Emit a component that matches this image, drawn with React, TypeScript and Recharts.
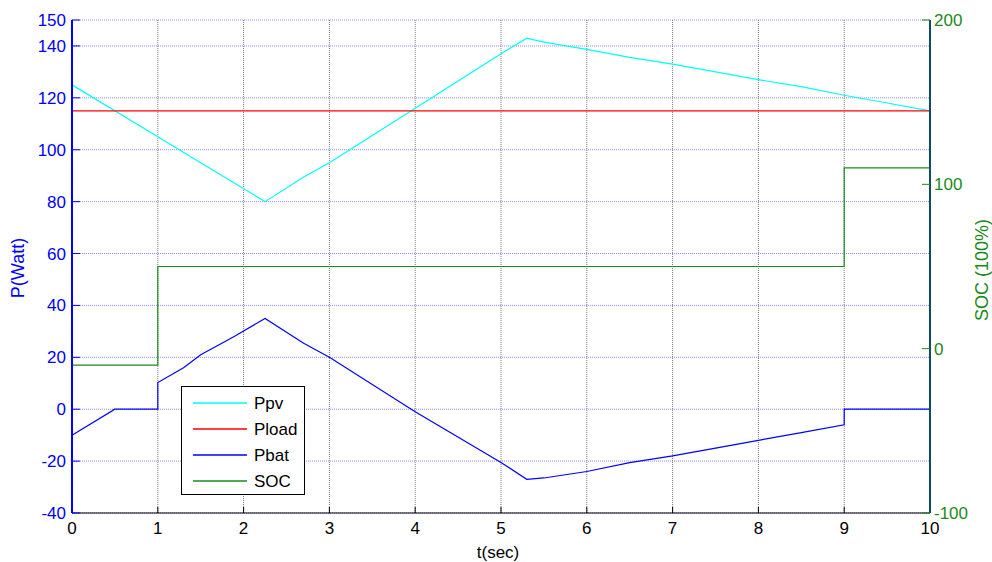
// power balance + state of charge over time

import React from "react";
import {
  ComposedChart,
  Line,
  XAxis,
  YAxis,
  CartesianGrid,
  Legend,
} from "recharts";

const timeTicks = [0, 1, 2, 3, 4, 5, 6, 7, 8, 9, 10];
const powerTicks = [-40, -20, 0, 20, 40, 60, 80, 100, 120, 140, 150];
const socTicks = [-100, 0, 100, 200];

const seriesNames = ["Ppv", "Pload", "Pbat", "SOC"];
const seriesColors = ["#00ffff", "#ff0000", "#0000ff", "#1a8a1a"];

const ppvTime = [0, 1, 1.5, 1.8, 1.9, 2.25, 2.7, 3, 4, 5, 5.3, 5.5, 6, 6.5, 7, 7.5, 8, 8.5, 9, 9.5, 10];
const ppvValues = [125, 105, 95, 89, 87, 80, 89.5, 95, 116, 137, 143, 141.5, 138.7, 135.6, 133, 130, 127, 124.3, 121, 118, 115];

const ploadTime = [0, 10];
const ploadValues = [115, 115];

const pbatTime = [0, 0.5, 1, 1, 1.3, 1.5, 1.8, 1.9, 2.25, 2.7, 3, 4, 5, 5.3, 5.5, 6, 6.5, 7, 7.5, 8, 8.5, 9, 9, 10];
const pbatValues = [-10, 0, 0, 10.3, 16, 21, 26.4, 28.2, 35, 25.4, 20, -1, -20.5, -27, -26.5, -24, -20.6, -18, -15, -12, -9, -6, 0, 0];

const socTime = [0, 1, 1, 9, 9, 10];
const socValues = [-10, -10, 50, 50, 110, 110];

interface Point {
  t: number;
  v: number;
}

const zip = (ts: number[], vs: number[]): Point[] => ts.map((t, i) => ({ t, v: vs[i] }));

const ppvData = zip(ppvTime, ppvValues);
const ploadData = zip(ploadTime, ploadValues);
const pbatData = zip(pbatTime, pbatValues);
const socData = zip(socTime, socValues);

const FONT = "'Liberation Sans', Arial, sans-serif";

// legend box drawn in plotting order (recharts sorts by name otherwise)
const LegendBox = () => (
  <svg width={124} height={109} style={{ display: "block" }}>
    <rect x={0.5} y={0.5} width={123} height={108} fill="#fff" stroke="#000" />
    {seriesNames.map((name, i) => (
      <g key={name}>
        <line x1={12} x2={66} y1={17 + i * 26} y2={17 + i * 26} stroke={seriesColors[i]} strokeWidth={1.5} />
        <text x={73} y={17 + i * 26} dominantBaseline="central" fill="#000" fontSize={17} fontFamily={FONT}>
          {name}
        </text>
      </g>
    ))}
  </svg>
);

const App: React.FC = () => {
  return (
    <div style={{ position: "absolute", left: 0, top: 0, width: 992, height: 562, background: "#fff" }}>
      <ComposedChart width={992} height={562} margin={{ top: 20, right: 0, bottom: 0, left: 0 }}>
        <CartesianGrid xAxisId="b" yAxisId="left" vertical={false} stroke="#8c8cff" strokeDasharray="1 1" />
        <CartesianGrid xAxisId="b" yAxisId="left" horizontal={false} stroke="#7a7a7a" strokeDasharray="1 1" />
        <XAxis
          xAxisId="b"
          type="number"
          dataKey="t"
          domain={[0, 10]}
          ticks={timeTicks}
          interval={0}
          height={49}
          axisLine={{ stroke: "#000" }}
          tickLine={{ stroke: "#000" }}
          tickSize={-6}
          tickMargin={15}
          tick={{ fill: "#000", fontSize: 17, fontFamily: FONT }}
          label={{
            content: () => (
              <text x={498} y={558} textAnchor="middle" fill="#000" fontSize={17} fontFamily={FONT}>
                t(sec)
              </text>
            ),
          }}
        />
        <XAxis
          xAxisId="top"
          orientation="top"
          type="number"
          domain={[0, 10]}
          ticks={timeTicks}
          interval={0}
          height={0}
          tick={false}
          axisLine={{ stroke: "#000" }}
          tickLine={{ stroke: "#000" }}
          tickSize={-6}
        />
        <YAxis
          yAxisId="left"
          domain={[-40, 150]}
          ticks={powerTicks}
          interval={0}
          width={72}
          axisLine={{ stroke: "#0000ff", strokeWidth: 2 }}
          tickLine={{ stroke: "#0000ff" }}
          tickSize={-8}
          tickMargin={14}
          tick={{ fill: "#0000ff", fontSize: 17, fontFamily: FONT }}
          label={{
            content: () => (
              <text x={18} y={268} transform="rotate(-90 18 268)" textAnchor="middle" dominantBaseline="central" fill="#0000ff" fontSize={18} fontFamily={FONT}>
                P(Watt)
              </text>
            ),
          }}
        />
        <YAxis
          yAxisId="leftMirror"
          orientation="right"
          domain={[-40, 150]}
          ticks={powerTicks}
          interval={0}
          width={0}
          axisLine={false}
          tick={false}
          tickLine={{ stroke: "#0000ff" }}
          tickSize={-8}
        />
        <YAxis
          yAxisId="right"
          orientation="right"
          domain={[-100, 200]}
          ticks={socTicks}
          interval={0}
          width={62}
          axisLine={{ stroke: "#0b4f5c", strokeWidth: 2 }}
          tickLine={{ stroke: "#1a8a1a" }}
          tickSize={-8}
          tickMargin={12}
          tick={{ fill: "#1a8a1a", fontSize: 17, fontFamily: FONT }}
          label={{
            content: () => (
              <text x={982} y={270} transform="rotate(-90 982 270)" textAnchor="middle" dominantBaseline="central" fill="#1a8a1a" fontSize={18} fontFamily={FONT}>
                SOC (100%)
              </text>
            ),
          }}
        />
        <Legend
          layout="vertical"
          align="center"
          verticalAlign="middle"
          content={<LegendBox />}
          wrapperStyle={{ left: 181, top: 386, width: 124, height: 109 }}
        />
        <Line xAxisId="b" yAxisId="left" data={ppvData} dataKey="v" name={seriesNames[0]} type="linear" stroke={seriesColors[0]} strokeWidth={1.2} dot={false} isAnimationActive={false} />
        <Line xAxisId="b" yAxisId="left" data={ploadData} dataKey="v" name={seriesNames[1]} type="linear" stroke={seriesColors[1]} strokeWidth={1.2} dot={false} isAnimationActive={false} />
        <Line xAxisId="b" yAxisId="left" data={pbatData} dataKey="v" name={seriesNames[2]} type="linear" stroke={seriesColors[2]} strokeWidth={1.2} dot={false} isAnimationActive={false} />
        <Line xAxisId="b" yAxisId="right" data={socData} dataKey="v" name={seriesNames[3]} type="linear" stroke={seriesColors[3]} strokeWidth={1.2} dot={false} isAnimationActive={false} />
      </ComposedChart>
    </div>
  );
};

export default App;
